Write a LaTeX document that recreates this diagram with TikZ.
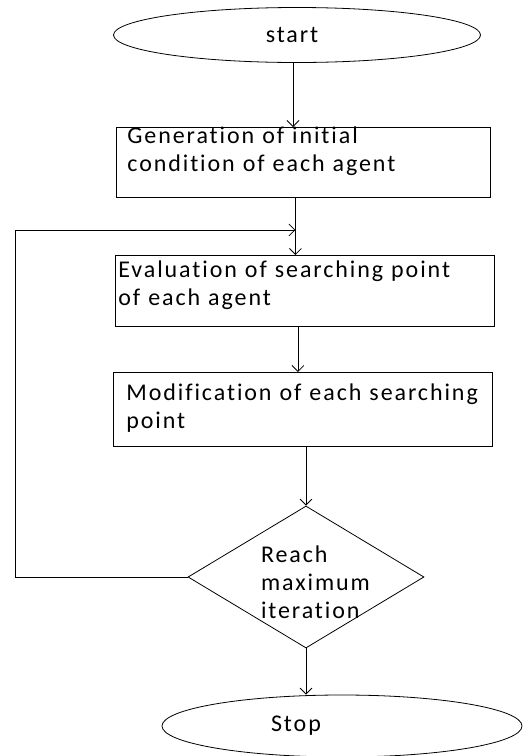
\documentclass[tikz,border=0pt]{standalone}
\usepackage{fontspec}
\setmainfont{Carlito}[LetterSpace=8, Ligatures={NoCommon}]
\usetikzlibrary{shapes.geometric,arrows.meta}

\tikzset{
    term/.style={draw, ellipse, line width=0.8pt, inner sep=0pt},
    procbox/.style={draw, rectangle, anchor=north west, line width=0.8pt, align=left, inner ysep=1pt},
    check/.style={draw, diamond, line width=0.8pt, inner sep=0pt, aspect=1.66, align=left},
    flow/.style={->, line width=0.8pt}
}

\begin{document}
\begin{tikzpicture}[x=1pt, y=-1pt, >={Straight Barb[length=6pt,width=12pt]},
    font=\fontsize{24}{28}\selectfont]
        \useasboundingbox (0,0) rectangle (529,756);

        % Start and stop
        \node[term, minimum width=367, minimum height=55] (start) at (297,35) {start\hspace*{10pt}};
        \node[term, minimum width=360, minimum height=62] (stop) at (342,726) {Stop\hspace*{92pt}};

        % Process boxes
        \node[procbox, inner xsep=11pt, text width=352, text height=15pt, text depth=53pt]
            (gen) at (116,127) {Generation of initial\\condition of each agent};
        \node[procbox, inner xsep=3pt, text width=373, text height=21pt, text depth=48pt]
            (eval) at (115,255) {Evaluation of searching point\\of each agent};
        \node[procbox, inner xsep=13pt, text width=353, text height=27pt, text depth=45pt]
            (modif) at (113,372) {Modification of each searching\\point};

        % Decision
        \node[check, minimum width=236, minimum height=142, text width=90, text height=25pt, text depth=55pt]
            (test) at (306,577) {Reach\\maximum\\iteration};

        % Main flow
        \draw[flow] ([xshift=-4pt]start.south) -- ([xshift=-4pt]start.south |- gen.north);
        \draw[flow] ([xshift=-8pt]gen.south) -- ([xshift=-8pt]gen.south |- eval.north);
        \draw[flow] ([xshift=-7pt]eval.south) -- ([xshift=-7pt]eval.south |- modif.north);
        \draw[flow] (modif.south -| test.north) -- (test.north);
        \draw[flow] (test.south) -- (test.south |- stop.north);

        % Loop back
        \coordinate (join) at ([xshift=-8pt]gen.south |- 0,230);
        \coordinate (back) at (15,577);
        \draw[flow] (test.west) -- (back) |- (join);
\end{tikzpicture}
\end{document}
